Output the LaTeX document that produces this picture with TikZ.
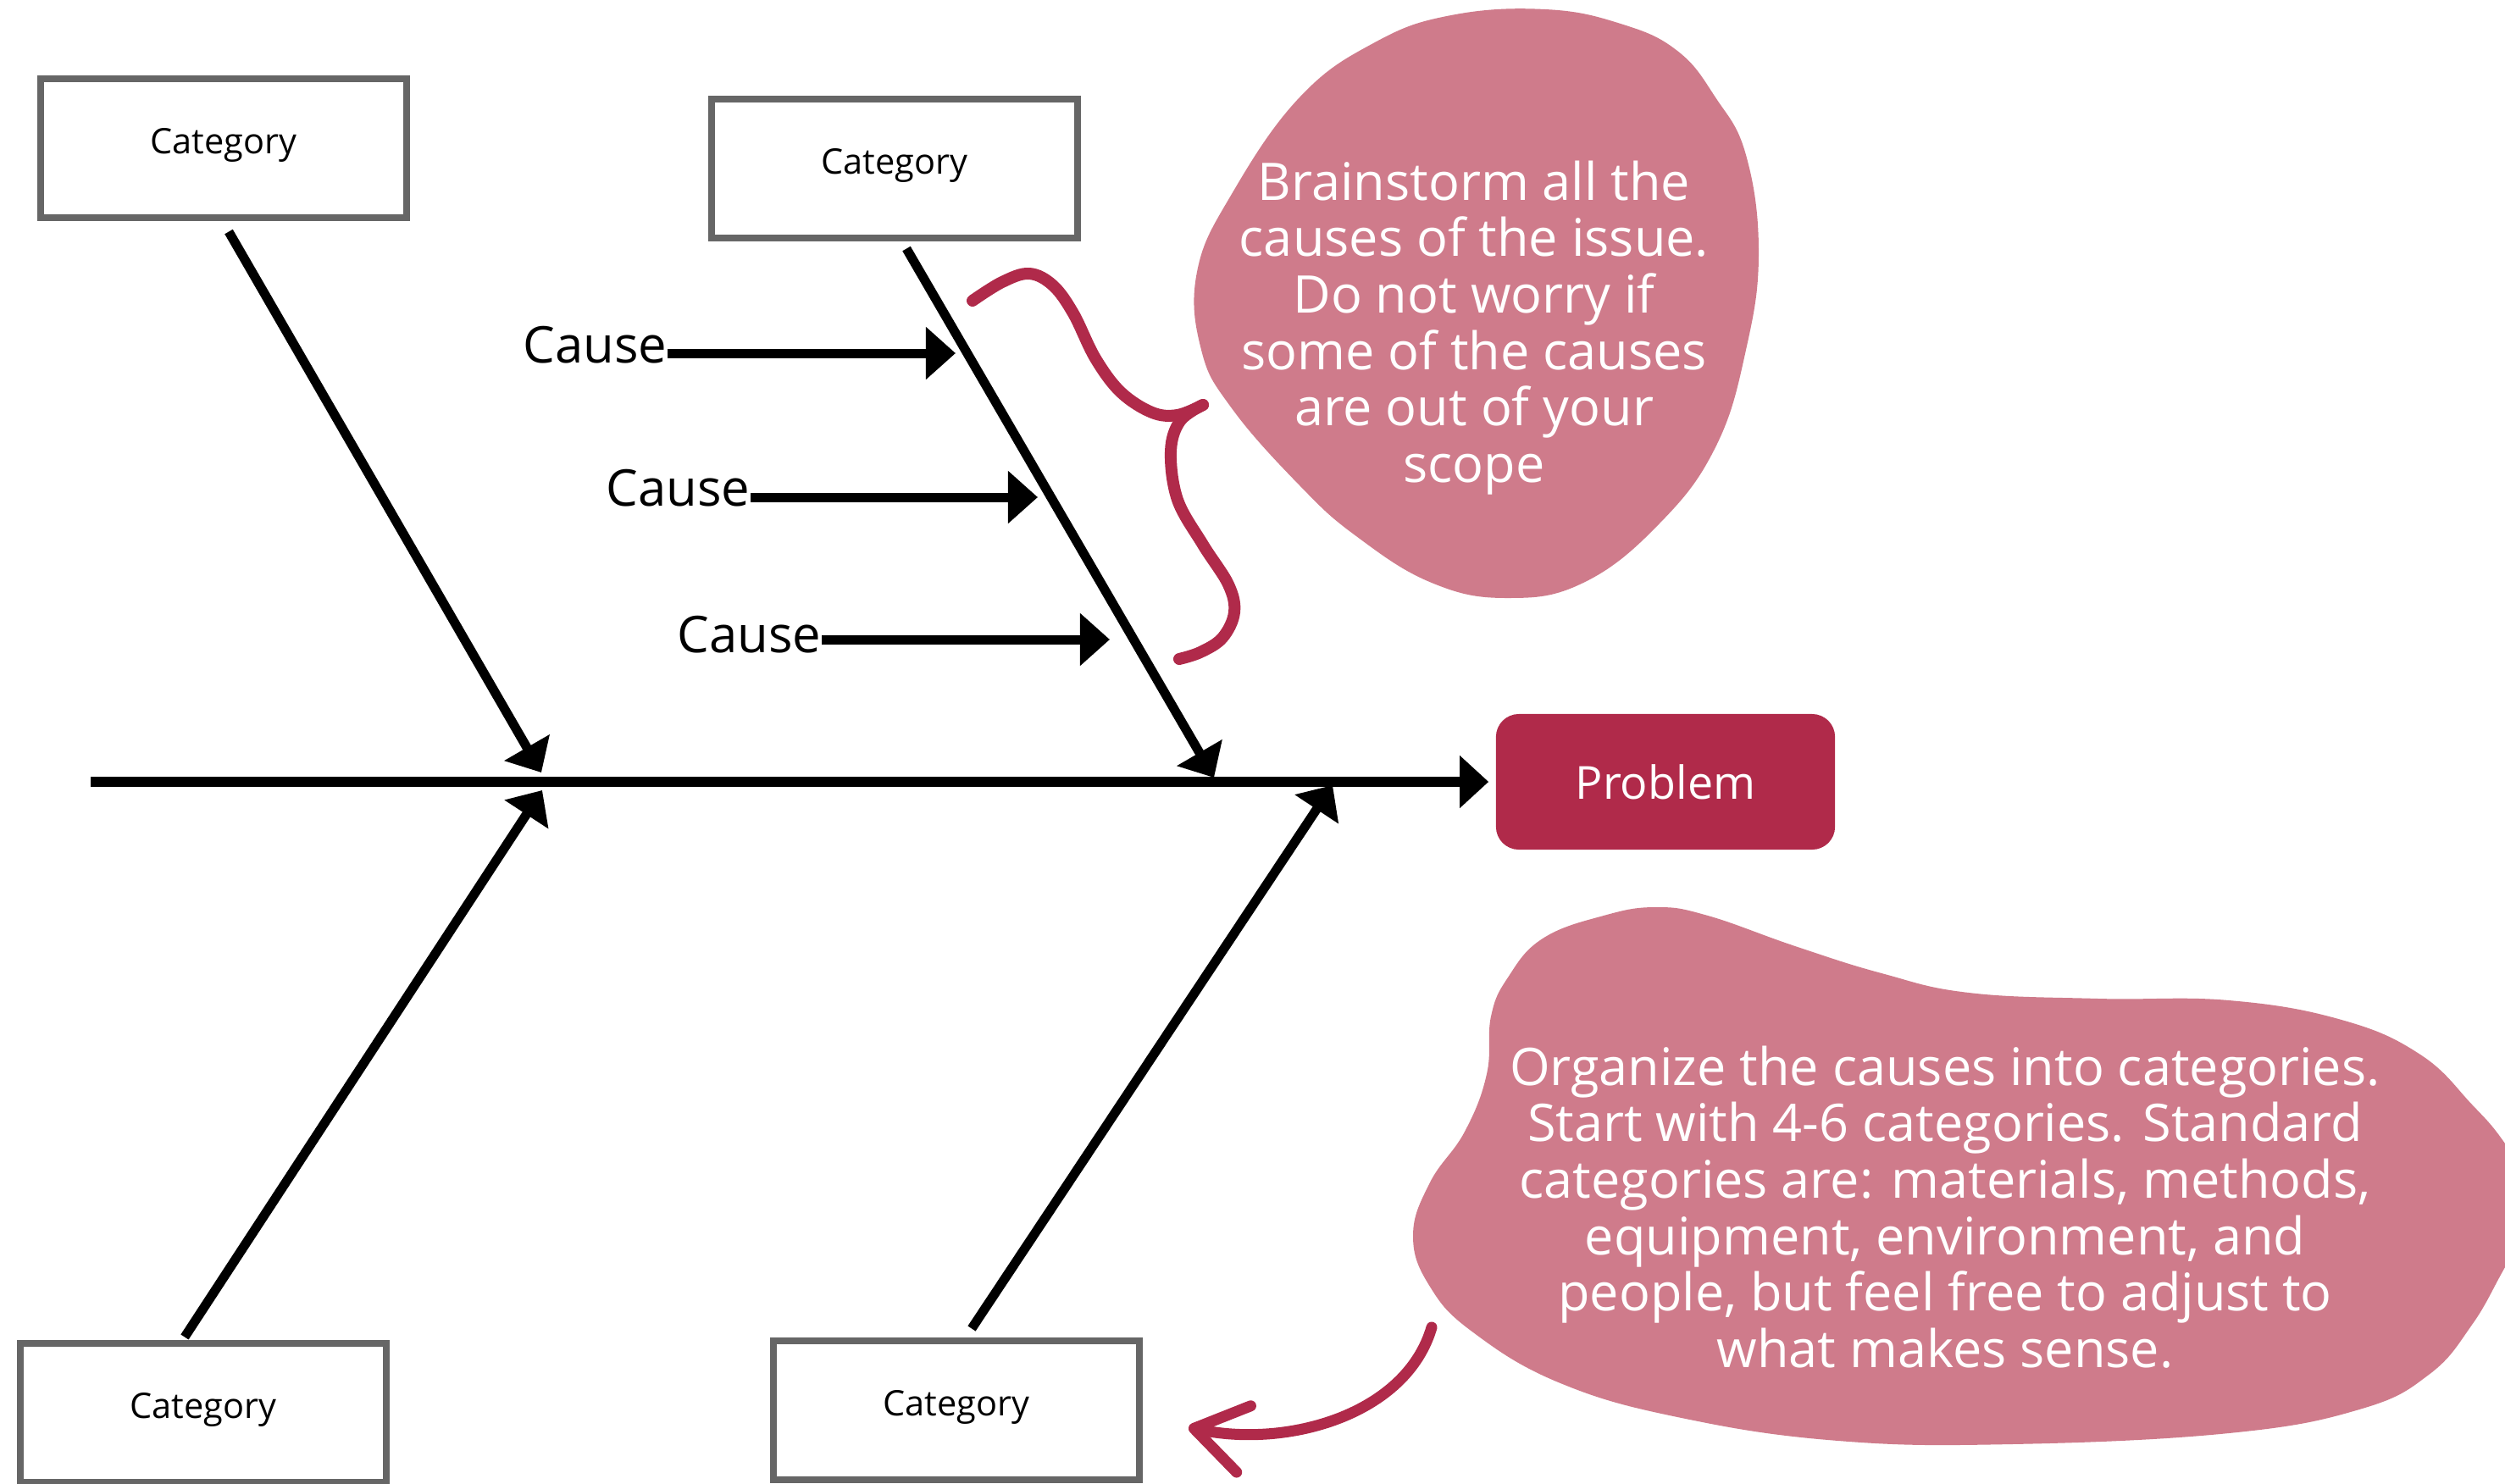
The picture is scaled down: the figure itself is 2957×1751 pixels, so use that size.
\documentclass[tikz,border=0pt]{standalone}
\usepackage{fontspec}
\setmainfont{Open Sans}
\usetikzlibrary{arrows.meta}
\definecolor{wine}{HTML}{B02A4A}
\definecolor{rose}{HTML}{CF7B8B}
\definecolor{boxgray}{HTML}{666666}
\begin{document}
\begin{tikzpicture}[x=0.01cm, y=-0.01cm,
  catbox/.style={draw=boxgray, fill=white, line width=0.08cm, minimum width=4.32cm, minimum height=1.63cm, inner sep=0pt, text depth=0.5em, font=\fontsize{11.8}{14}\selectfont},
  causetext/.style={inner sep=0pt, anchor=base east, font=\fontsize{17}{20}\selectfont},
  bone/.style={line width=0.11cm, -{Triangle[length=0.34cm, width=0.6cm]}},
  twig/.style={line width=0.11cm, -{Triangle[length=0.35cm, width=0.6cm]}},
  note/.style={inner sep=0pt, align=center, text=white, font=\fontsize{17.4}{18.95}\selectfont},
  brace/.style={wine, line width=0.14cm, line cap=round},
  pointer/.style={wine, line width=0.13cm, line cap=round, -{Straight Barb[length=0.6cm, width=0.8cm, round]}}]
\clip (0,0) rectangle (2957,1751);
\fill[white] (0,0) rectangle (2957,1751);
\fill[rose] plot[smooth cycle, tension=0.7] coordinates {(1534,115) (1454,229) (1413,321) (1418,413) (1454,482) (1534,573) (1601,633) (1690,688) (1779,706) (1869,688) (1958,619) (2025,528) (2061,413) (2076,298) (2061,183) (2025,115) (1980,60) (1913,28) (1824,11) (1713,18) (1623,50)};
\fill[rose] plot[smooth cycle, tension=0.7] coordinates {(1780,1154) (1821,1108) (1893,1081) (1955,1071) (2016,1081) (2119,1117) (2221,1149) (2324,1172) (2477,1179) (2631,1181) (2764,1204) (2857,1245) (2918,1304) (2957,1350) (3000,1420) (2957,1496) (2918,1564) (2867,1623) (2785,1664) (2631,1692) (2375,1705) (2170,1701) (1985,1674) (1842,1633) (1739,1573) (1688,1519) (1668,1459) (1688,1396) (1729,1336) (1755,1268) (1760,1200)};
\node[note] (note0) at (1740,387) {Brainstorm all the\\causes of the issue.\\Do not worry if\\some of the causes\\are out of your\\scope};
\node[note] (note1) at (2296,1425) {Organize the causes into categories.\\Start with 4-6 categories. Standard\\categories are: materials, methods,\\equipment, environment, and\\people, but feel free to adjust to\\what makes sense.};
\draw[brace] plot[smooth, tension=0.6] coordinates {(1148,355) (1183,333) (1215,323) (1243,337) (1267,370) (1293,423) (1323,463) (1360,487) (1390,490) (1420,478)};
\draw[brace] plot[smooth, tension=0.6] coordinates {(1420,478) (1393,497) (1382,533) (1390,590) (1420,643) (1450,690) (1457,723) (1443,753) (1417,770) (1392,778)};
\node[catbox] (cat0) at (264,175) {Category};
\node[catbox] (cat1) at (1056,199) {Category};
\node[catbox] (cat2) at (240,1668) {Category};
\node[catbox] (cat3) at (1129,1665) {Category};
\node[fill=wine, rounded corners=0.27cm, minimum width=4cm, minimum height=1.6cm, text=white, font=\fontsize{15.3}{18}\selectfont] (prob) at (1966,923) {Problem};
\coordinate (tail) at (107,923);
\coordinate (j0) at (639,912);
\coordinate (j1) at (1433,918);
\coordinate (j2) at (640,933);
\coordinate (j3) at (1573,927);
\draw[line width=0.12cm, -{Triangle[length=0.34cm, width=0.6cm]}, shorten >=0.08cm] (tail) -- (prob.west);
\draw[bone] ([shift={(6,13)}]cat0.south) -- (j0);
\draw[bone] ([shift={(14,9)}]cat1.south) -- (j1);
\draw[bone] ([shift={(-22,-4)}]cat2.north) -- (j2);
\draw[bone] ([shift={(18,-11)}]cat3.north) -- (j3);
\node[causetext] (cause0) at (788,428) {Cause};
\node[causetext] (cause1) at (886,597) {Cause};
\node[causetext] (cause2) at (970,770) {Cause};
\coordinate (tip0) at (1128,417);
\coordinate (tip1) at (1225,587);
\coordinate (tip2) at (1310,755);
\draw[twig] (cause0.east |- tip0) -- (tip0);
\draw[twig] (cause1.east |- tip1) -- (tip1);
\draw[twig] (cause2.east |- tip2) -- (tip2);
\coordinate (hint) at (1690,1567);
\coordinate (hintend) at (1403,1685);
\draw[pointer] (hint) .. controls (1660,1670) and (1520,1710) .. (hintend);
\end{tikzpicture}
\end{document}
